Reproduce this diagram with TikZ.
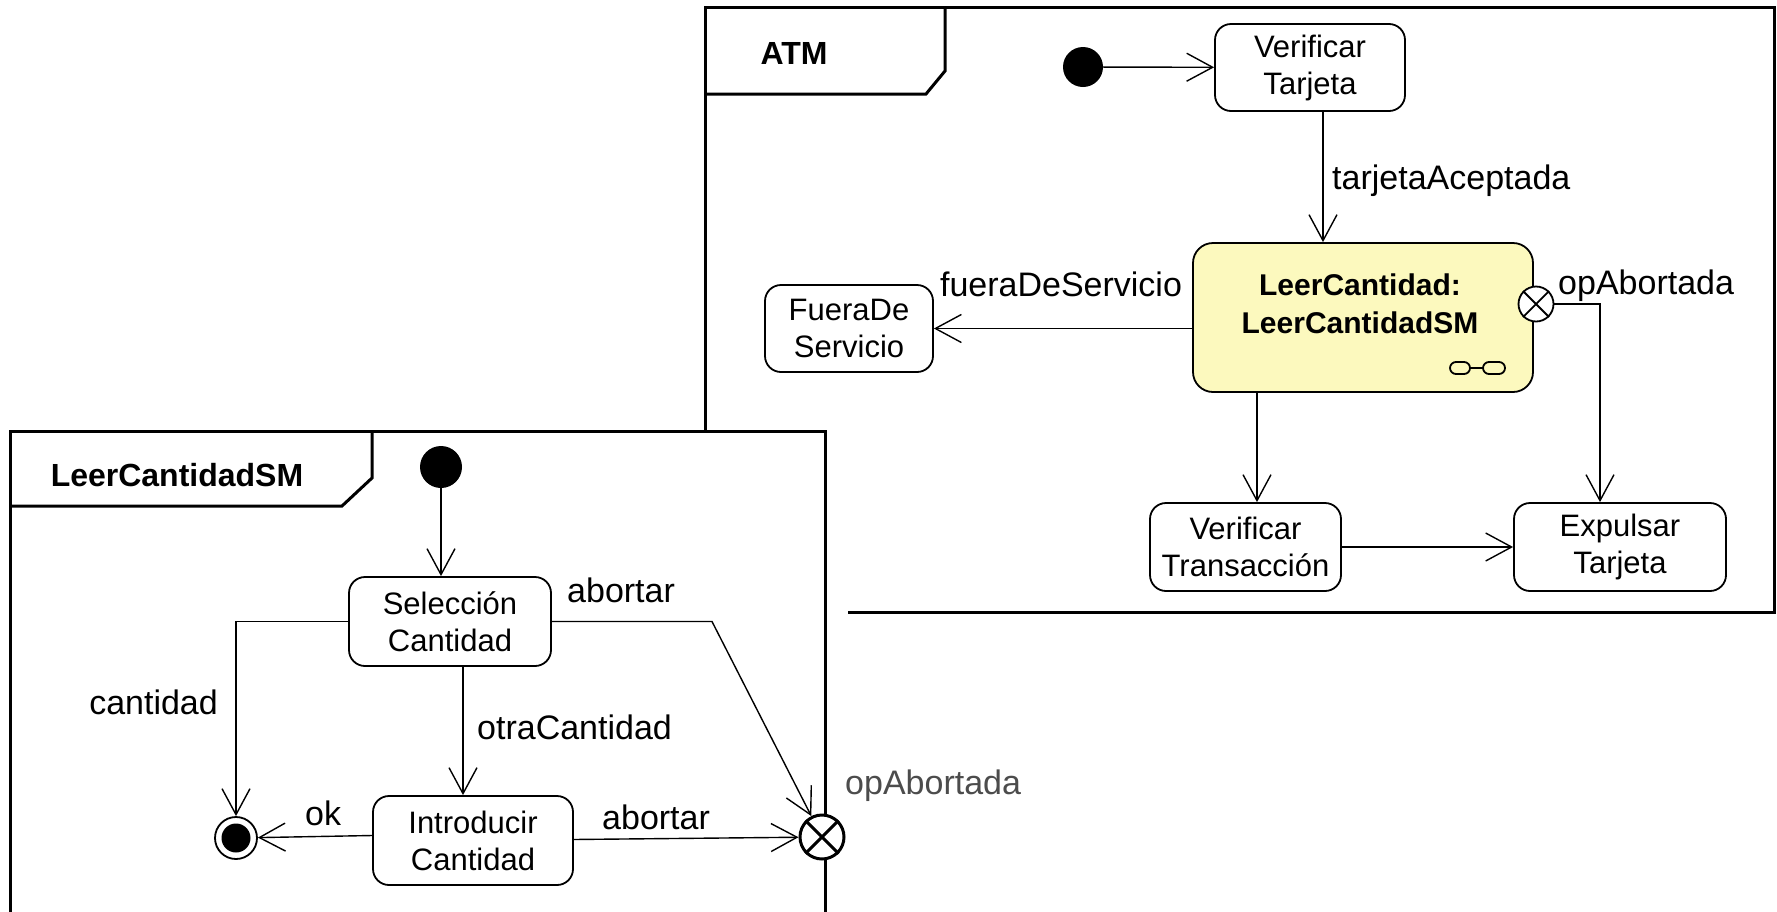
\documentclass[tikz,border=0pt]{standalone}
\usepackage{fontspec}
\setmainfont{Liberation Sans}
\usetikzlibrary{arrows.meta}
\definecolor{lcfill}{RGB}{252,249,190}
\begin{document}
\begin{tikzpicture}[x=1pt,y=-1pt,
  statebox/.style={draw, line width=1.8pt, rounded corners=16pt, align=center,
    font=\fontsize{31}{37}\selectfont, inner sep=0pt},
  trans/.style={line width=1.4pt, -{Straight Barb[length=26pt,width=28pt,line width=1.4pt]}},
  lbl/.style={font=\fontsize{34}{40}\selectfont, inner sep=0pt, text height=25pt, text depth=7pt},
  framebox/.style={line width=3pt},
  ftitle/.style={font=\fontsize{32}{38}\selectfont\bfseries, inner sep=0pt},
  initdot/.style={circle, fill=black, minimum size=40pt, inner sep=0pt},
  exitpt/.style={circle, draw, fill=white, inner sep=0pt},
]
\useasboundingbox (0,0) rectangle (1777,911);
\clip (0,0) rectangle (1777,911);

% ---------------- ATM frame ----------------
\draw[framebox] (705,7) rectangle (1774,612);
\draw[framebox] (705,94) -- (926,94) -- (945,71) -- (945,7);
\node[ftitle] (atmt) at (794,53) {ATM};

\node[initdot] (ai) at (1083,67) {};
\node[statebox, minimum width=190pt, minimum height=87pt] (vt) at (1310,67.5) {Verificar\\Tarjeta};
\node[statebox, fill=lcfill, minimum width=340pt, minimum height=149pt, rounded corners=20pt] (lc) at (1363,317.5) {};
\node[font=\fontsize{30}{38}\selectfont\bfseries, align=center, inner sep=0pt] (lct) at (1360,304) {LeerCantidad:\\LeerCantidadSM};
\draw[line width=1.8pt, rounded corners=6pt] (1450,362) rectangle (1470,374) (1483,362) rectangle (1505,374);
\draw[line width=1.8pt] (1470,368) -- (1483,368);
\node[statebox, minimum width=168pt, minimum height=87pt] (fs) at (849,328.5) {FueraDe\\Servicio};
\node[statebox, minimum width=191pt, minimum height=88pt] (vtr) at (1245.5,547) {Verificar\\Transacción};
\node[statebox, minimum width=212pt, minimum height=88pt] (et) at (1620,547) {Expulsar\\Tarjeta};
\node[exitpt, minimum size=35pt, line width=1.8pt] (ax) at (1536,304) {};
\draw[line width=1.8pt] (ax.north west) -- (ax.south east) (ax.north east) -- (ax.south west);

\draw[trans] (ai) -- (vt);
\draw[trans] ([xshift=13pt]vt.south) -- ([xshift=-40pt]lc.north);
\node[lbl, anchor=west] (l1) at (1332,180) {tarjetaAceptada};
\draw[trans] (lc.west |- fs.east) -- (fs.east);
\node[lbl] (l2) at (1061,287) {fueraDeServicio};
\node[lbl, anchor=west] (l3) at (1558,285) {opAbortada};
\draw[trans] ([xshift=-106pt]lc.south) -- ([xshift=11.5pt]vtr.north);
\draw[trans] (ax.east) -| ([xshift=-20pt]et.north);
\draw[trans] (vtr) -- (et);

% ---------------- LeerCantidadSM frame ----------------
\fill[white] (10,431) rectangle (848,930);
\draw[framebox] (10,930) -- (10,431) -- (825,431) -- (825,930);
\draw[framebox] (10,506) -- (342,506) -- (372,478) -- (372,431);
\node[ftitle] (smt) at (177,475) {LeerCantidadSM};

\node[initdot, minimum size=42pt] (si) at (441,467) {};
\node[statebox, minimum width=202pt, minimum height=89pt] (sel) at (450,621.5) {Selección\\Cantidad};
\node[statebox, minimum width=200pt, minimum height=89pt] (intro) at (473,840.5) {Introducir\\Cantidad};
\node[circle, draw, line width=1.8pt, fill=white, minimum size=42pt, inner sep=0pt] (fin) at (236,838) {};
\node[circle, fill=black, minimum size=29pt, inner sep=0pt] (finin) at (236,838) {};
\node[exitpt, minimum size=44pt, line width=3pt] (sx) at (822,837) {};
\draw[line width=3pt] (sx.north west) -- (sx.south east) (sx.north east) -- (sx.south west);
\coordinate (bend1) at (712,621.5);

\draw[trans] (si) -- (si |- sel.north);
\draw[trans] (sel.west) -| (fin.north);
\node[lbl, anchor=east] (l4) at (218,705) {cantidad};
\draw[trans] ([xshift=13pt]sel.south) -- ([xshift=-10pt]intro.north);
\node[lbl, anchor=west] (l5) at (477,730) {otraCantidad};
\draw[trans] (sel.east) -- (bend1) -- (sx);
\node[lbl, anchor=west] (l6) at (567,593) {abortar};
\draw[trans] ([yshift=5pt]intro.west) -- (fin);
\node[lbl, anchor=west] (l7) at (305,816) {ok};
\draw[trans] (intro) -- (sx);
\node[lbl, anchor=west] (l8) at (602,820) {abortar};
\node[lbl, anchor=west, text=black!70] (l9) at (845,785) {opAbortada};
\end{tikzpicture}
\end{document}
